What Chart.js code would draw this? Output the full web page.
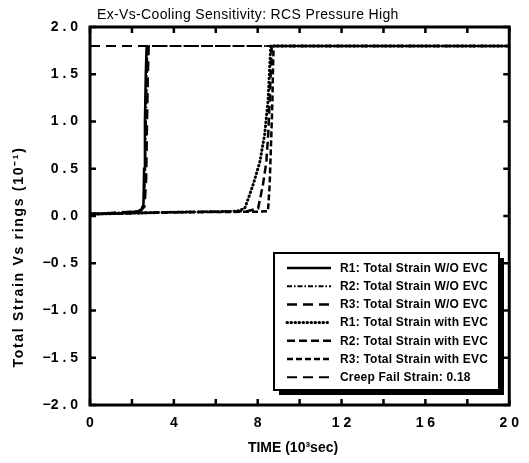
<!DOCTYPE html>
<html>
<head>
<meta charset="utf-8">
<script src="https://cdn.jsdelivr.net/npm/chart.js@4/dist/chart.umd.min.js"></script>
<style>
html,body{margin:0;padding:0;background:#fff;}
#wrap{width:529px;height:463px;}
</style>
</head>
<body>
<div id="wrap"><canvas id="c" width="529" height="463"></canvas></div>
<script>
// ---- data (time in 10^3 s, strain in 10^-1) ----
const titleText = "Ex-Vs-Cooling Sensitivity: RCS Pressure High";
const xTitle = "TIME (10\u00B3sec)";
const yTitle = "Total Strain Vs rings (10\u207B\u00B9)";
const seriesLabels = [
  "R1: Total Strain W/O EVC",
  "R2: Total Strain W/O EVC",
  "R3: Total Strain W/O EVC",
  "R1: Total Strain with EVC",
  "R2: Total Strain with EVC",
  "R3: Total Strain with EVC",
  "Creep Fail Strain: 0.18"
];
const r1woX = [0, 1.0, 2.0, 2.3, 2.45, 2.55, 2.58, 2.62, 2.66, 2.70];
const r1woY = [0.02, 0.025, 0.035, 0.05, 0.07, 0.12, 0.5, 1.0, 1.5, 1.8];
const r2woX = [0, 2.3, 2.5, 2.6, 2.64, 2.68, 2.72, 2.75, 20];
const r2woY = [0.02, 0.05, 0.08, 0.2, 0.6, 1.1, 1.6, 1.8, 1.8];
const r3woX = [0, 2.4, 2.6, 2.68, 2.72, 2.76, 2.8];
const r3woY = [0.02, 0.05, 0.1, 0.4, 1.0, 1.5, 1.8];
const r1wX = [0, 2, 4, 6, 7.0, 7.38, 7.78, 8.1, 8.33, 8.49, 8.57, 8.62, 20];
const r1wY = [0.02, 0.03, 0.04, 0.045, 0.05, 0.08, 0.33, 0.57, 0.86, 1.21, 1.57, 1.8, 1.8];
const r2wX = [0, 4, 7.5, 8.02, 8.25, 8.41, 8.5, 8.57, 8.63, 8.67, 20];
const r2wY = [0.02, 0.04, 0.05, 0.08, 0.33, 0.57, 0.86, 1.21, 1.57, 1.8, 1.8];
const r3wX = [0, 4, 8.0, 8.49, 8.57, 8.65, 8.7, 8.73, 8.76, 20];
const r3wY = [0.02, 0.04, 0.045, 0.05, 0.33, 0.86, 1.21, 1.57, 1.8, 1.8];
const creepX = [0, 20];
const creepY = [1.8, 1.8];
const xTickValues = [0, 2, 4, 6, 8, 10, 12, 14, 16, 18, 20];
const yTickValues = [-2, -1.5, -1, -0.5, 0, 0.5, 1, 1.5, 2];

const pts = (xs, ys) => xs.map((x, i) => ({x: x, y: ys[i]}));

const styles = [
  {borderWidth: 2.5, borderDash: []},
  {borderWidth: 2, borderDash: [5, 2, 1.5, 2]},
  {borderWidth: 2.5, borderDash: [10, 6]},
  {borderWidth: 3, borderDash: [0.5, 3.5], borderCapStyle: 'round'},
  {borderWidth: 2.5, borderDash: [8, 4]},
  {borderWidth: 2.5, borderDash: [6, 3]},
  {borderWidth: 2, borderDash: [10, 6]}
];
const seriesData = [
  pts(r1woX, r1woY), pts(r2woX, r2woY), pts(r3woX, r3woY),
  pts(r1wX, r1wY), pts(r2wX, r2wY), pts(r3wX, r3wY),
  pts(creepX, creepY)
];
const datasets = seriesData.map((d, i) => Object.assign({
  label: seriesLabels[i],
  data: d,
  borderColor: '#000',
  backgroundColor: '#000',
  pointRadius: 0,
  fill: false,
  tension: 0,
  borderCapStyle: 'butt',
  order: i === 6 ? 10 : i
}, styles[i]));

const spaced = s => s.split('').join(' ');
const FONT = '"Liberation Sans", Arial, sans-serif';

const framePlugin = {
  id: 'framePlugin',
  afterDatasetsDraw(chart) {
    const ctx = chart.ctx, ca = chart.chartArea;
    const xs = chart.scales.x, ys = chart.scales.y;
    ctx.save();
    // legend box with shadow
    const bx = 274, by = 253, bw = 225, bh = 137;
    ctx.fillStyle = '#000';
    ctx.fillRect(bx + 5, by + 5, bw, bh);
    ctx.fillStyle = '#fff';
    ctx.fillRect(bx, by, bw, bh);
    ctx.strokeStyle = '#000';
    ctx.lineWidth = 2;
    ctx.strokeRect(bx, by, bw, bh);
    ctx.font = 'bold 12px ' + FONT;
    ctx.textBaseline = 'middle';
    ctx.textAlign = 'left';
    ctx.fillStyle = '#000';
    try { ctx.letterSpacing = '0.2px'; } catch (e) {}
    datasets.forEach((ds, i) => {
      const ry = 268 + i * 18.2;
      ctx.beginPath();
      ctx.lineWidth = ds.borderWidth;
      ctx.setLineDash(ds.borderDash);
      ctx.lineCap = ds.borderCapStyle || 'butt';
      ctx.moveTo(287, ry);
      ctx.lineTo(331, ry);
      ctx.stroke();
      ctx.setLineDash([]);
      ctx.lineCap = 'butt';
      ctx.fillText(ds.label, 340, ry + 0.5);
    });
    try { ctx.letterSpacing = '0px'; } catch (e) {}
    // frame
    ctx.lineWidth = 3;
    ctx.strokeStyle = '#000';
    ctx.strokeRect(ca.left, ca.top, ca.right - ca.left, ca.bottom - ca.top);
    // inward ticks
    ctx.lineWidth = 2.5;
    ctx.beginPath();
    xTickValues.forEach(v => {
      const px = xs.getPixelForValue(v);
      ctx.moveTo(px, ca.bottom); ctx.lineTo(px, ca.bottom - 6);
      ctx.moveTo(px, ca.top); ctx.lineTo(px, ca.top + 6);
    });
    yTickValues.forEach(v => {
      const py = ys.getPixelForValue(v);
      ctx.moveTo(ca.left, py); ctx.lineTo(ca.left + 6, py);
      ctx.moveTo(ca.right, py); ctx.lineTo(ca.right - 6, py);
    });
    ctx.stroke();
    // title
    ctx.font = '14px ' + FONT;
    ctx.textAlign = 'left';
    ctx.textBaseline = 'middle';
    try { ctx.letterSpacing = '0.35px'; } catch (e) {}
    ctx.fillText(titleText, 97, 15);
    try { ctx.letterSpacing = '0px'; } catch (e) {}
    // x title
    ctx.font = 'bold 14px ' + FONT;
    ctx.textAlign = 'center';
    ctx.fillText(xTitle, 293, 448);
    // y title
    ctx.translate(19, 257);
    ctx.rotate(-Math.PI / 2);
    try { ctx.letterSpacing = '1.7px'; } catch (e) {}
    ctx.fillText(yTitle, 0, 0);
    ctx.restore();
  }
};

new Chart(document.getElementById('c'), {
  type: 'line',
  data: {datasets: datasets},
  options: {
    responsive: false,
    animation: false,
    devicePixelRatio: 1,
    layout: {padding: {top: 27, right: 19, left: 0, bottom: 0}},
    plugins: {legend: {display: false}, title: {display: false}, tooltip: {enabled: false}},
    scales: {
      x: {
        type: 'linear', min: 0, max: 20,
        afterFit(s) { s.height = 58; },
        afterBuildTicks(s) { s.ticks = xTickValues.map(v => ({value: v})); },
        grid: {display: false, drawTicks: false},
        border: {display: false},
        ticks: {
          autoSkip: false, maxRotation: 0, padding: 10, color: '#000',
          font: {family: FONT, size: 14, weight: 'bold'},
          callback: v => (v % 4 === 0 ? spaced(String(v)) : '')
        }
      },
      y: {
        type: 'linear', min: -2, max: 2,
        afterFit(s) { s.width = 90; },
        afterBuildTicks(s) { s.ticks = yTickValues.map(v => ({value: v})); },
        grid: {display: false, drawTicks: false},
        border: {display: false},
        ticks: {
          padding: 12, color: '#000',
          font: {family: FONT, size: 14, weight: 'bold'},
          callback: v => (v < 0 ? '\u2212' : '') + spaced(Math.abs(v).toFixed(1))
        }
      }
    }
  },
  plugins: [framePlugin]
});
</script>
</body>
</html>
